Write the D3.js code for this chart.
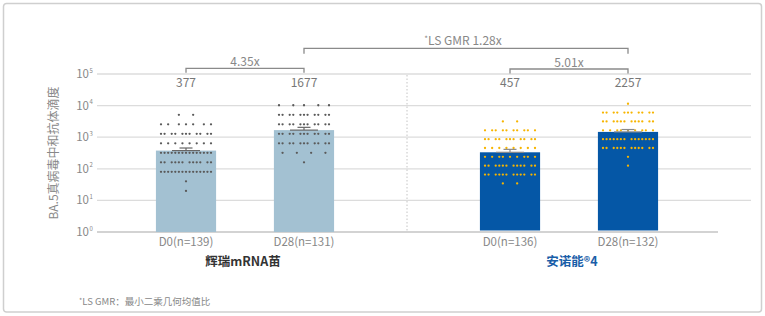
<!DOCTYPE html>
<html><head><meta charset="utf-8">
<script src="https://cdn.jsdelivr.net/npm/d3@7"></script>
<style>
html,body{margin:0;padding:0;background:#fff;}
svg{display:block;font-family:"Noto Sans CJK SC","Noto Sans",sans-serif;}
</style></head>
<body><svg id="c" width="765" height="316"></svg>
<script>
// ---- data ----
const groups = ["辉瑞mRNA苗", "安诺能®4"];
const timepoints = ["D0", "D28"];
const xLabels = [["D0(n=139)", "D28(n=131)"], ["D0(n=136)", "D28(n=132)"]];
const gmt = [[377, 1677], [457, 2257]];
const gmtLabels = [["377", "1677"], ["457", "2257"]];
const ciUpper = [[455, 2050], [575, 2720]];
const foldRise = ["4.35x", "5.01x"];
const lsGmrLabel = "LS GMR 1.28x";
const titerLevels = [20, 40, 80, 160, 320, 640, 1280, 2560, 5120, 10240, 20480];
// visible dots per titer level (aligned with titerLevels)
const dotsPfizerD0  = [1, 1, 15, 12, 15, 8, 11, 7, 2, 0, 0];
const dotsPfizerD28 = [0, 0, 0, 1, 4, 11, 11, 11, 11, 5, 0];
const dotsAnD0      = [0, 2, 12, 12, 9, 8, 11, 10, 2, 0, 0];
const dotsAnD28     = [0, 0, 0, 1, 1, 12, 14, 9, 12, 11, 1];
const dots = [[dotsPfizerD0, dotsPfizerD28], [dotsAnD0, dotsAnD28]];
const yTicks = [1, 10, 100, 1000, 10000, 100000];
const yTitle = "BA.5真病毒中和抗体滴度";
const footnote = "LS GMR：最小二乘几何均值比";

// ---- style ----
const barColors = ["#a3c1d2", "#0557a6"];
const dotColors = ["#5a5a5a", "#f7b500"];
const errColors = ["#666", "#8a8a8a"];
const groupColors = ["#333", "#1a5ea8"];
const grey = "#888";

const svg = d3.select("#c");
svg.append("rect").attr("x", 3.5).attr("y", 3.5).attr("width", 758).attr("height", 308.5)
  .attr("rx", 3).attr("fill", "#fff").attr("stroke", "#cfcfcf").attr("stroke-width", 1.5);

// scales (right-hand panel is drawn at a slightly compressed scale, as in the source)
const yScales = [
  d3.scaleLog().domain([1, 1e5]).range([232, 74]),
  d3.scaleLog().domain([1, 1e5]).range([230.5, 83.5])
];
const y = yScales[0];
const xGroup = d3.scaleBand().domain(groups).range([83, 731]);
const xInner = d3.scaleBand().domain(timepoints).range([0, xGroup.bandwidth()])
  .paddingInner(0.49).paddingOuter(0.618);

// grid
const gridG = svg.append("g");
yTicks.forEach(t => {
  gridG.append("line").attr("x1", 97).attr("x2", t === 1 ? 718 : 751)
    .attr("y1", y(t)).attr("y2", y(t))
    .attr("stroke", t === 1 ? "#a8a8a8" : "#dcdcdc").attr("stroke-width", t === 1 ? 1.2 : 1.3);
  gridG.append("text").attr("x", 89).attr("y", y(t) + 4)
    .attr("text-anchor", "end").attr("fill", grey).attr("font-size", 11.5).text("10");
  gridG.append("text").attr("x", 89.5).attr("y", y(t) - 1.5)
    .attr("fill", grey).attr("font-size", 6).text(Math.round(Math.log10(t)));
});

// y title
svg.append("text").attr("transform", "translate(58,153) rotate(-90)")
  .attr("text-anchor", "middle").attr("fill", grey).attr("font-size", 12).text(yTitle);

// separator
const sepX = (xGroup(groups[0]) + xGroup.bandwidth() + xGroup(groups[1])) / 2;
svg.append("line").attr("x1", sepX).attr("x2", sepX).attr("y1", 75).attr("y2", 231)
  .attr("stroke", "#c4c4c4").attr("stroke-dasharray", "1.5,2");

const cx = (gi, ti) => xGroup(groups[gi]) + xInner(timepoints[ti]) + xInner.bandwidth() / 2;

groups.forEach((g, gi) => {
  const ys = yScales[gi];
  timepoints.forEach((t, ti) => {
    const x0 = xGroup(g) + xInner(t);
    const bw = xInner.bandwidth();
    const c = cx(gi, ti);
    svg.append("rect").attr("x", x0).attr("width", bw)
      .attr("y", ys(gmt[gi][ti])).attr("height", ys(1) - ys(gmt[gi][ti]))
      .attr("fill", barColors[gi]);
    // dots
    const cols = 15, span = 50, step = span / (cols - 1);
    dots[gi][ti].forEach((n, li) => {
      if (!n) return;
      const yy = ys(titerLevels[li]);
      let slots;
      if (n === 1) slots = [7];
      else if (n <= 4) { const s = Math.min(4, 14 / (n - 1)); slots = d3.range(n).map(i => 7 + (i - (n - 1) / 2) * s); }
      else slots = d3.range(n).map(i => Math.round(i * 14 / (n - 1)));
      slots.forEach(s => {
        svg.append("circle").attr("cx", c - span / 2 + s * step).attr("cy", yy)
          .attr("r", 1.15).attr("fill", dotColors[gi]);
      });
    });
    // error bar
    const ym = ys(gmt[gi][ti]), yu = ys(ciUpper[gi][ti]);
    const eg = svg.append("g").attr("stroke", errColors[gi]).attr("stroke-width", 1.2);
    eg.append("line").attr("x1", c - 14).attr("x2", c + 14).attr("y1", ym).attr("y2", ym);
    eg.append("line").attr("x1", c).attr("x2", c).attr("y1", ym).attr("y2", yu);
    eg.append("line").attr("x1", c - 6.5).attr("x2", c + 6.5).attr("y1", yu).attr("y2", yu);
    // value label
    svg.append("text").attr("x", c).attr("y", 86.5).attr("text-anchor", "middle")
      .attr("fill", "#777").attr("font-size", 12).text(gmtLabels[gi][ti]);
    // x label
    svg.append("text").attr("x", c).attr("y", 245.5).attr("text-anchor", "middle")
      .attr("fill", grey).attr("font-size", 11.5).text(xLabels[gi][ti]);
  });
  // group label
  svg.append("text").attr("x", xGroup(g) + xGroup.bandwidth() / 2 + (gi === 0 ? -2 : 3)).attr("y", 266)
    .attr("text-anchor", "middle").attr("fill", groupColors[gi]).attr("font-size", 12.5)
    .attr("font-weight", "bold").text(g);
  // fold-rise bracket
  const a = cx(gi, 0), b = cx(gi, 1);
  const by = gi === 0 ? 68.3 : 69;
  svg.append("path").attr("d", `M${a},${by + 4.5}V${by}H${b}V${by + 4.5}`)
    .attr("fill", "none").attr("stroke", "#8a8a8a").attr("stroke-width", 1.3);
  svg.append("text").attr("x", (a + b) / 2).attr("y", by - 2.3).attr("text-anchor", "middle")
    .attr("fill", grey).attr("font-size", 12).text(foldRise[gi]);
});

// LS GMR bracket
{
  const a = cx(0, 1), b = cx(1, 1), by = 48.3;
  svg.append("path").attr("d", `M${a},${by + 5.5}V${by}H${b}V${by + 5.5}`)
    .attr("fill", "none").attr("stroke", "#8a8a8a").attr("stroke-width", 1.3);
  const t = svg.append("text").attr("x", (a + b) / 2 - 3).attr("y", 45).attr("text-anchor", "middle")
    .attr("fill", grey).attr("font-size", 12);
  t.append("tspan").attr("font-size", 8).attr("dy", -3).text("*");
  t.append("tspan").attr("dy", 3).text(lsGmrLabel);
}

// footnote
{
  const t = svg.append("text").attr("x", 79).attr("y", 305).attr("fill", grey).attr("font-size", 9.5);
  t.append("tspan").attr("font-size", 7).attr("dy", -2).text("*");
  t.append("tspan").attr("dy", 2).text(footnote);
}
</script></body></html>
